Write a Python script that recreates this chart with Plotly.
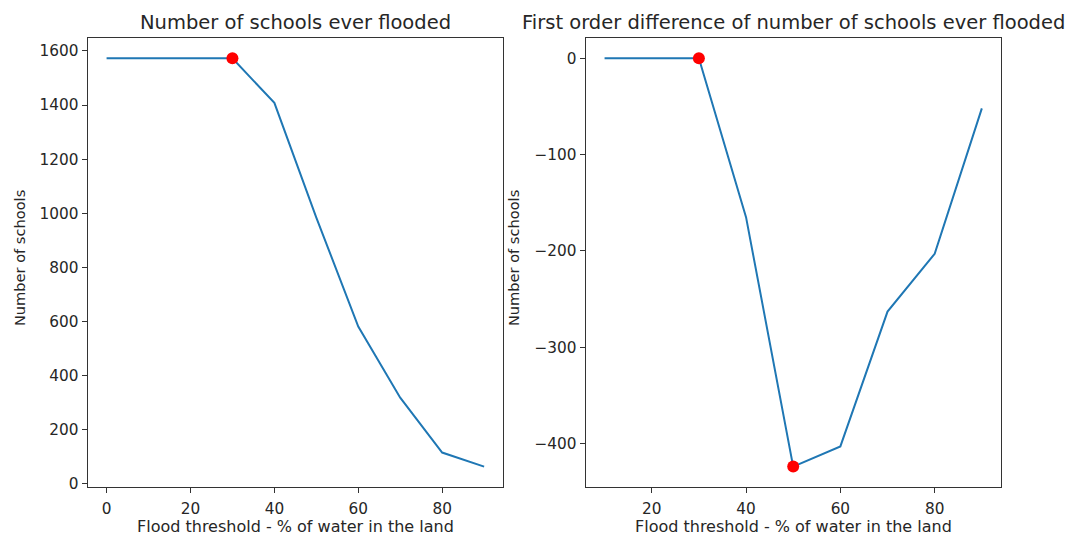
import plotly.graph_objects as go

thresholds = [0, 10, 20, 30, 40, 50, 60, 70, 80, 90]
schools_flooded = [1573, 1573, 1573, 1573, 1408, 984, 581, 318, 115, 63]
diff_thresholds = [10, 20, 30, 40, 50, 60, 70, 80, 90]
diff_values = [0, 0, 0, -165, -424, -403, -263, -203, -52]
left_highlight_x = [30]
left_highlight_y = [1573]
right_highlight_x = [30, 50]
right_highlight_y = [0, -424]

W, H = 1070, 539
FONT = "DejaVu Sans"
TXT = "#262626"
BLUE = "#1f77b4"

fig = go.Figure()
fig.add_trace(go.Scatter(x=thresholds, y=schools_flooded, mode="lines",
                         line=dict(color=BLUE, width=2), xaxis="x", yaxis="y", showlegend=False))
fig.add_trace(go.Scatter(x=left_highlight_x, y=left_highlight_y, mode="markers",
                         marker=dict(color="red", size=12), xaxis="x", yaxis="y", showlegend=False))
fig.add_trace(go.Scatter(x=diff_thresholds, y=diff_values, mode="lines",
                         line=dict(color=BLUE, width=2), xaxis="x2", yaxis="y2", showlegend=False))
fig.add_trace(go.Scatter(x=right_highlight_x, y=right_highlight_y, mode="markers",
                         marker=dict(color="red", size=12), xaxis="x2", yaxis="y2", showlegend=False))

def px_x(p):
    return p / W

def px_y(p):
    return 1 - p / H

top, bottom = 38.3, 492.5
l1, r1 = 87.7, 503.0
l2, r2 = 585.7, 1000.7

axis_common = dict(showline=True, mirror=True, linecolor="#333333", linewidth=1.3,
                   ticks="outside", ticklen=5, tickwidth=1.2, tickcolor="#333333",
                   showgrid=False, zeroline=False,
                   tickfont=dict(family=FONT, size=15.3, color=TXT))

def span(vals, frac=0.05):
    lo, hi = min(vals), max(vals)
    d = (hi - lo) * frac
    return [lo - d, hi + d]

fig.update_layout(
    width=W, height=H,
    margin=dict(l=0, r=0, t=0, b=0),
    paper_bgcolor="white", plot_bgcolor="white",
    xaxis=dict(domain=[px_x(l1), px_x(r1)], range=span(thresholds), anchor="y",
               tickvals=[0, 20, 40, 60, 80], ticklabelstandoff=2, **axis_common),
    yaxis=dict(domain=[px_y(bottom), px_y(top)], range=span(schools_flooded), anchor="x",
               tickvals=[0, 200, 400, 600, 800, 1000, 1200, 1400, 1600], **axis_common),
    xaxis2=dict(domain=[px_x(l2), px_x(r2)], range=span(diff_thresholds), anchor="y2",
                tickvals=[20, 40, 60, 80], ticklabelstandoff=2, **axis_common),
    yaxis2=dict(domain=[px_y(bottom), px_y(top)], range=span(diff_values), anchor="x2",
                tickvals=[-400, -300, -200, -100, 0],
                ticktext=["\u2212400", "\u2212300", "\u2212200", "\u2212100", "0"], **axis_common),
)

def ann(text, x, y, size, angle=0, height=None):
    fig.add_annotation(text=text, x=px_x(x), y=px_y(y), xref="paper", yref="paper",
                       showarrow=False, textangle=angle, xanchor="center", yanchor="middle",
                       borderpad=0, height=height, font=dict(family=FONT, size=size, color=TXT))

ann("Number of schools ever flooded", (l1 + r1) / 2, 23, 19.5)
ann("First order difference of number of schools ever flooded", (l2 + r2) / 2, 23, 19.5)
ann("Flood threshold - % of water in the land", (l1 + r1) / 2, 531.5, 16.0, height=16)
ann("Flood threshold - % of water in the land", (l2 + r2) / 2, 531.5, 16.0, height=16)
ann("Number of schools", 19, 261, 14.6, -90)
ann("Number of schools", 513, 261, 14.6, -90)

fig.write_html("out.html")
